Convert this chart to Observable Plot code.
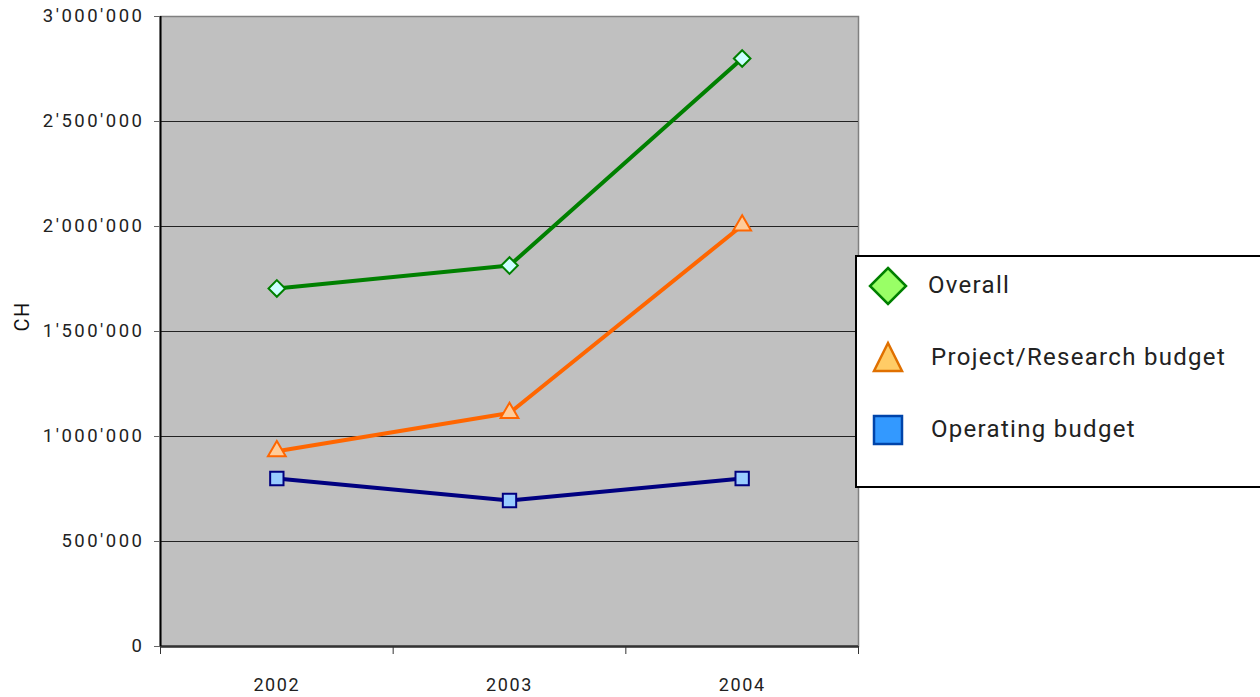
<!DOCTYPE html>
<html>
<head>
<meta charset="utf-8">
<script src="https://cdn.jsdelivr.net/npm/d3@7"></script>
<script src="https://cdn.jsdelivr.net/npm/@observablehq/plot@0.6"></script>
<style>
  html, body { margin: 0; padding: 0; background: #fff; overflow: hidden; }
  #wrap { position: relative; width: 1260px; height: 697px; }
  #wrap g[aria-label="y-axis tick label"] { letter-spacing: 2.5px; }
  #legend {
    position: absolute; left: 855px; top: 255px; width: 420px; height: 229px;
    border: 2px solid #000; background: #fff; box-sizing: content-box;
    font-family: Roboto, "DejaVu Sans", sans-serif; font-size: 24px; color: #222;
  }
  .item { position: absolute; }
  .item svg { position: absolute; }
  .item span { position: absolute; white-space: nowrap; letter-spacing: 1.3px; }
</style>
</head>
<body>
<div id="wrap"></div>
<script>
const years = [2002, 2003, 2004];
const overall = [1705000, 1814000, 2800000];
const project = [930000, 1112000, 2005000];
const operating = [800000, 695000, 800000];
const yTicks = [0, 500000, 1000000, 1500000, 2000000, 2500000, 3000000];
const seriesNames = ["Overall", "Project/Research budget", "Operating budget"];

const rows = [];
years.forEach((yr, i) => {
  rows.push({year: yr, value: overall[i], series: seriesNames[0]});
  rows.push({year: yr, value: project[i], series: seriesNames[1]});
  rows.push({year: yr, value: operating[i], series: seriesNames[2]});
});
const bySeries = s => rows.filter(d => d.series === s);

const fmt = v => d3.format(",")(v).replace(/,/g, "'");
const bounds = [2001.5, 2002.5, 2003.5, 2004.5];

const chart = Plot.plot({
  width: 1260,
  height: 697,
  marginLeft: 160,
  marginRight: 402,
  marginTop: 16,
  marginBottom: 51,
  style: {fontFamily: "Roboto, 'DejaVu Sans', sans-serif", fontSize: "18px", color: "#222", background: "#fff", letterSpacing: "1.6px"},
  x: {domain: [2001.5, 2004.5]},
  y: {domain: [0, 3000000]},
  marks: [
    Plot.frame({fill: "#c0c0c0", stroke: "#808080", strokeWidth: 1.5}),
    Plot.ruleY(yTicks.slice(1, -1), {stroke: "#222", strokeWidth: 1}),
    Plot.ruleY([0], {stroke: "#333", strokeWidth: 2.5}),
    Plot.ruleX([2001.5], {stroke: "#000", strokeWidth: 2}),
    Plot.axisY({ticks: yTicks, tickFormat: fmt, tickSize: 6, tickPadding: 10, stroke: "#666", label: null, fontSize: 18.5}),
    Plot.axisX({ticks: bounds, tickFormat: () => "", tickSize: 8, stroke: "#333", label: null}),
    Plot.axisX({ticks: years, tickFormat: d => String(d), tickSize: 0, tickPadding: 32, label: null, fontSize: 18}),
    Plot.text(["CH"], {frameAnchor: "left", dx: -138, rotate: -90, fontSize: 20, fill: "#111"}),
    Plot.line(bySeries(seriesNames[0]), {x: "year", y: "value", stroke: "#008000", strokeWidth: 4}),
    Plot.line(bySeries(seriesNames[1]), {x: "year", y: "value", stroke: "#ff6600", strokeWidth: 4}),
    Plot.line(bySeries(seriesNames[2]), {x: "year", y: "value", stroke: "#000080", strokeWidth: 4}),
    Plot.dot(bySeries(seriesNames[0]), {x: "year", y: "value", symbol: "diamond2", r: 7.5, fill: "#ccffff", stroke: "#008000", strokeWidth: 2}),
    Plot.dot(bySeries(seriesNames[1]), {x: "year", y: "value", symbol: "triangle2", r: 8.5, fill: "#ffcc99", stroke: "#ff6600", strokeWidth: 2}),
    Plot.dot(bySeries(seriesNames[2]), {x: "year", y: "value", symbol: "square2", r: 8.5, fill: "#99ccff", stroke: "#000080", strokeWidth: 2})
  ]
});

const wrap = document.getElementById("wrap");
wrap.appendChild(chart);

const legend = document.createElement("div");
legend.id = "legend";
const items = [
  {name: seriesNames[0], top: 29, tx: 71, svg: '<svg width="40" height="40" viewBox="-20 -20 40 40"><path d="M0,-18L18,0L0,18L-18,0Z" fill="#99ff66" stroke="#008000" stroke-width="2.5"/></svg>'},
  {name: seriesNames[1], top: 101, tx: 74, svg: '<svg width="40" height="40" viewBox="-20 -20 40 40"><path d="M0,-15L14,13L-14,13Z" fill="#ffcc66" stroke="#e07000" stroke-width="2.5"/></svg>'},
  {name: seriesNames[2], top: 173, tx: 74, svg: '<svg width="40" height="40" viewBox="-20 -20 40 40"><rect x="-14" y="-14" width="28" height="28" fill="#3399ff" stroke="#0044aa" stroke-width="2.5"/></svg>'}
];
items.forEach(it => {
  const el = document.createElement("div");
  el.className = "item";
  el.style.top = it.top + "px";
  el.style.left = "0px";
  el.innerHTML = it.svg.replace("<svg", '<svg style="left:11px;top:-20px"') +
    '<span style="left:' + it.tx + 'px;top:-15px">' + it.name + '</span>';
  legend.appendChild(el);
});
wrap.appendChild(legend);
</script>
</body>
</html>
